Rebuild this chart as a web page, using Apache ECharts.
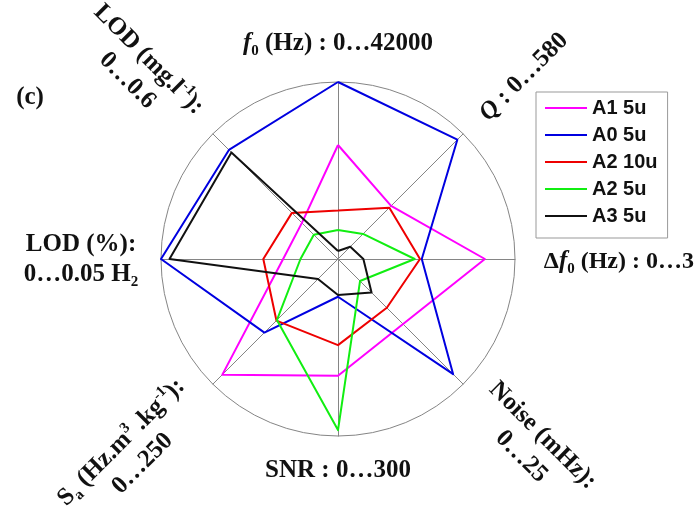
<!DOCTYPE html>
<html><head><meta charset="utf-8">
<script src="https://cdn.jsdelivr.net/npm/echarts@6/dist/echarts.min.js"></script>
<style>html,body{margin:0;padding:0;background:#fff}#c{width:697px;height:508px}</style>
</head><body><div id="c"></div>
<script>
// Indicator order (counter-clockwise from top): f0, LOD(mg/l), LOD(%), Sa, SNR, Noise, Δf0, Q
const axisKeys = ['f0', 'LOD_mg', 'LOD_pct', 'Sa', 'SNR', 'Noise', 'df0', 'Q'];
const axisMax = [42000, 0.6, 0.05, 250, 300, 25, 3, 580];
const seriesNames = ['A1 5u', 'A0 5u', 'A2 10u', 'A2 5u', 'A3 5u'];
const seriesColors = ['#ff00ff', '#0000e0', '#ee0000', '#11ee11', '#111111'];
const A1_5u  = [27050, 0.173, 0.0155, 231, 198, 13.0, 2.49, 246];
const A0_5u  = [42000, 0.523, 0.0500, 147,  64, 23.0, 1.42, 553];
const A2_10u = [11500, 0.221, 0.0211, 123, 146,  9.75, 1.39, 238];
const A2_5u  = [ 6900, 0.116, 0.0106, 122, 290,  4.4, 1.30, 116];
const A3_5u  = [ 1900, 0.511, 0.0476,  40,  61,  6.7, 0.43,  57];
const seriesData = [A1_5u, A0_5u, A2_10u, A2_5u, A3_5u];

const SERIF = "'Liberation Serif','Times New Roman',serif";
const base = {fontFamily: SERIF, fontWeight: 'bold', fontSize: 25, lineHeight: 30, color: '#111'};
const rich = {
  m: Object.assign({}, base),
  s: Object.assign({}, base, {fontSize: 24}),
  i: Object.assign({}, base, {fontStyle: 'italic'}),
  sub: Object.assign({}, base, {fontSize: 15, lineHeight: 18, verticalAlign: 'bottom'}),
  sup: Object.assign({}, base, {fontSize: 15, lineHeight: 18, verticalAlign: 'top'})
};
function label(text, x, y, rot, align) {
  return {type: 'text', x: x, y: y, rotation: rot || 0, z: 10,
    style: {text: text, rich: rich, align: align || 'center', verticalAlign: 'middle', fill: '#111',
      font: "bold 25px 'Liberation Serif'"}};
}
const P = Math.PI / 4;
const chart = echarts.init(document.getElementById('c'), null, {renderer: 'canvas'});
chart.setOption({
  animation: false,
  backgroundColor: '#fff',
  legend: {
    orient: 'vertical', left: 536, top: 92, padding: [6, 10, 12, 9],
    itemGap: 7, itemWidth: 42, itemHeight: 2, itemTextGap: 3, icon: 'rect',
    borderColor: '#999', borderWidth: 1,
    textStyle: {fontFamily: "'Liberation Sans',Arial,sans-serif", fontWeight: 'bold', fontSize: 20, lineHeight: 20, color: '#111'},
    data: seriesNames
  },
  radar: {
    center: [338, 259], radius: 177, startAngle: 90, shape: 'circle', splitNumber: 1,
    indicator: axisKeys.map((k, i) => ({name: k, min: 0, max: axisMax[i]})),
    axisName: {show: false},
    axisLine: {lineStyle: {color: '#858585', width: 1}},
    splitLine: {lineStyle: {color: '#858585', width: 1}},
    splitArea: {show: false},
    axisTick: {show: false},
    axisLabel: {show: false}
  },
  series: [{
    type: 'radar', symbol: 'none', silent: true,
    emphasis: {disabled: true},
    data: seriesNames.map((n, i) => ({
      name: n, value: seriesData[i],
      itemStyle: {color: seriesColors[i]},
      lineStyle: {color: seriesColors[i], width: 2}
    }))
  }],
  graphic: [
    label('{i|f}{sub|0}{m| (Hz) : 0…42000}', 338, 44, 0),
    label('{i|Q}{m| : 0…580}', 524, 77, P),
    label('{s|Δ}{i|f}{sub|0}{s| (Hz) : 0…3}', 694, 262, 0, 'right'),
    label('{m|Noise (mHz):}\n{m|0…25}', 532, 446, -P),
    label('{m|SNR : 0…300}', 338, 471, 0),
    label('{m|S}{sub|a}{m| (Hz.m}{sup|3}{m| .kg}{sup|-1}{m|):}\n{m|0…250}', 132, 453, P),
    label('{m|LOD (%):}\n{m|0…0.05 H}{sub|2}', 81, 260, 0),
    label('{m|LOD (mg.l}{sup|-1}{m|):}\n{m|0…0.6}', 138, 70, -P),
    label('{m|(c)}', 30, 98, 0)
  ]
});
</script></body></html>
